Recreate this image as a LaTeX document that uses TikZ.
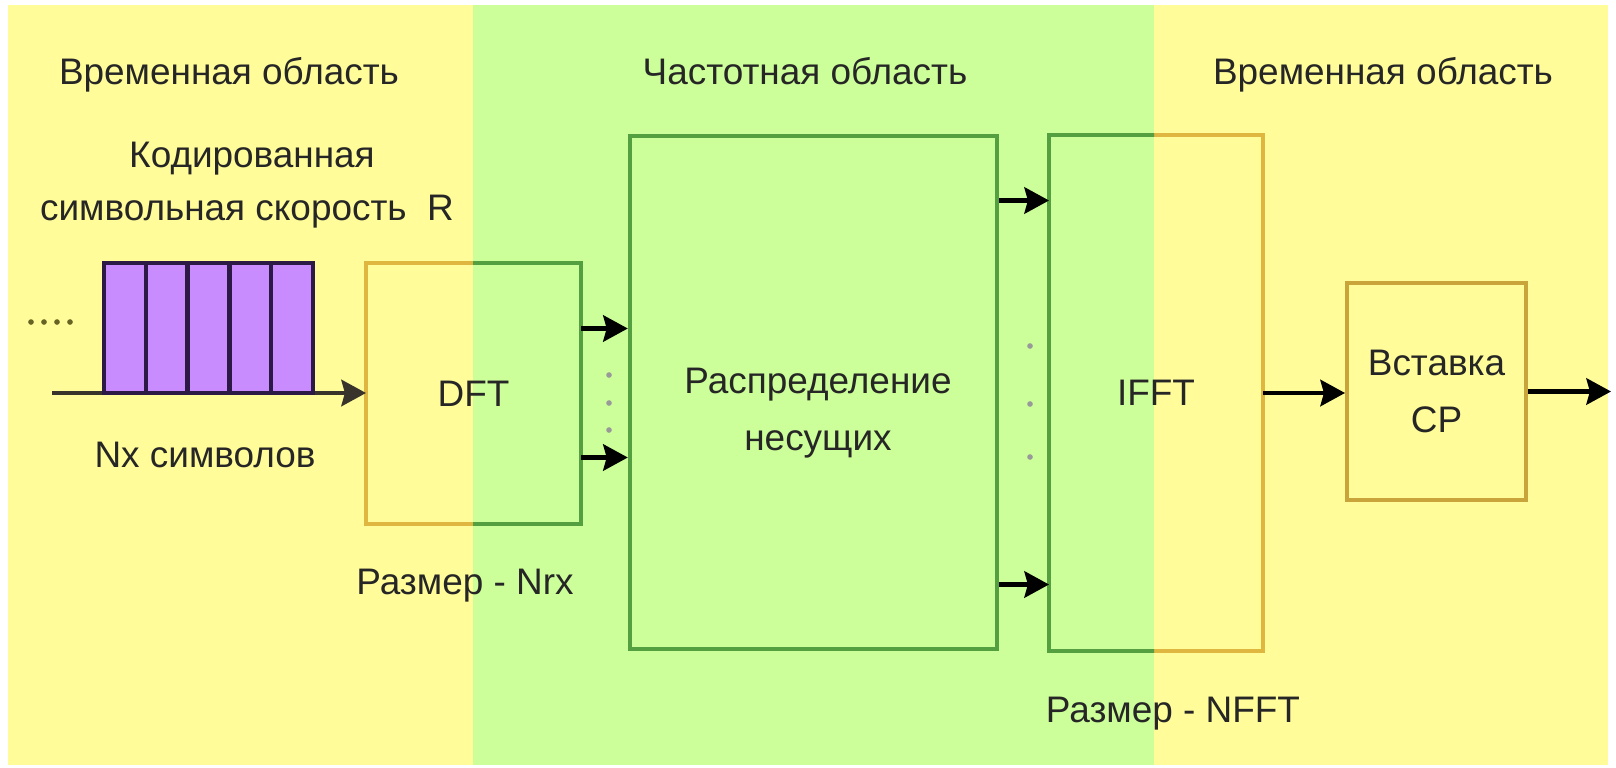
\documentclass[tikz,border=0pt]{standalone}
\usepackage{fontspec}
\setmainfont{Liberation Sans}
\usetikzlibrary{arrows.meta, calc}
\definecolor{zoneyellow}{RGB}{255,252,153}
\definecolor{zonegreen}{RGB}{204,255,153}
\definecolor{goldline}{RGB}{222,182,64}
\definecolor{greenline}{RGB}{84,160,64}
\definecolor{cellfill}{RGB}{200,140,255}
\definecolor{cellline}{RGB}{45,25,70}
\tikzset{
  block/.style={draw=goldline, line width=1.1pt, inner sep=0pt, align=center, text=black!85, font=\fontsize{10.5}{16}\selectfont},
  rim/.style={line width=1.2pt},
  cell/.style={draw=cellline, fill=cellfill, line width=1.2pt, minimum width=0.418cm, minimum height=1.30cm, inner sep=0pt},
  sig/.style={line width=1.2pt, -{Stealth[length=7pt,width=7.5pt,inset=1pt]}},
  lbl/.style={anchor=base, inner sep=0pt, text=black!85, font=\fontsize{10.5}{16}\selectfont},
  dot/.style={circle, fill=black!40, inner sep=0pt, minimum size=1.6pt}
}
\begin{document}
\begin{tikzpicture}[x=0.01cm, y=-0.01cm]
\useasboundingbox (0,0) rectangle (1616,767);
\fill[white] (0,0) rectangle (1616,767);
\fill[zoneyellow] (8,5) rectangle (1608,765);
\fill[zonegreen] (473,5) rectangle (1154,765);

\node[lbl] (tleft) at (229,85) {Временная область};
\node[lbl] (tmid) at (805,85) {Частотная область};
\node[lbl] (tright) at (1383,85) {Временная область};
\node[lbl] (rate1) at (252,167) {Кодированная};
\node[lbl] (rate2) at (247,220) {символьная скорость~~R};

\node[block, draw=none, minimum width=2.11cm, minimum height=2.57cm] (dft) at (473.5,393.5) {DFT};
\node[block, draw=greenline, rim, minimum width=3.67cm, minimum height=5.13cm] (alloc) at (813.5,392.5) {};
\node[align=center, inner sep=0pt, text=black!85, font=\fontsize{10.5}{16}\selectfont] (alloctext) at (818,413) {Распределение\\несущих};
\node[block, draw=none, minimum width=2.10cm, minimum height=5.12cm] (ifft) at (1156,393) {IFFT};
\node[block, draw=goldline!90!black, minimum width=1.79cm, minimum height=2.17cm] (cp) at (1436.5,391.5) {Вставка\\CP};

\begin{scope}
  \clip (0,0) rectangle (473,767) (1154,0) rectangle (1616,767);
  \draw[goldline, rim] (dft.south west) rectangle (dft.north east);
  \draw[goldline, rim] (ifft.south west) rectangle (ifft.north east);
\end{scope}
\begin{scope}
  \clip (473,0) rectangle (1154,767);
  \draw[greenline, rim] (dft.south west) rectangle (dft.north east);
  \draw[greenline, rim] (ifft.south west) rectangle (ifft.north east);
\end{scope}

\coordinate (in) at (52,393);
\coordinate (out) at (1611,393);
\draw[sig, black!80!olive] (in) -- (in -| dft.west);
\foreach \i in {1,...,5}
  \node[cell] (c\i) at ({124.9+41.8*(\i-1)},328) {};
\foreach \x in {31,44,57,70}
  \node[dot, fill=black!35!olive] at (\x,322) {};
\node[lbl] (nsym) at (205,467) {Nx символов};
\node[lbl] (nrx) at (465,594) {Размер - Nrx};
\node[lbl] (nfft) at (1173,722) {Размер - NFFT};

\foreach \dy/\n in {-65/a, 64/b} {
  \coordinate (d\n) at ($(dft.east)+(0,\dy)$);
  \draw[sig] (d\n) -- (d\n -| alloc.west);
}
\foreach \dy/\n in {-192/a, 192/b} {
  \coordinate (s\n) at ($(alloc.east)+(0,\dy)$);
  \draw[sig] (s\n) -- (s\n -| ifft.west);
}
\foreach \y in {375,403,430}
  \node[dot] at (609,\y) {};
\foreach \y in {346,404,457}
  \node[dot] at (1030,\y) {};
\draw[sig] (ifft.east) -- (ifft.east -| cp.west);
\draw[sig] (cp.east) -- (cp.east -| out);
\end{tikzpicture}
\end{document}
